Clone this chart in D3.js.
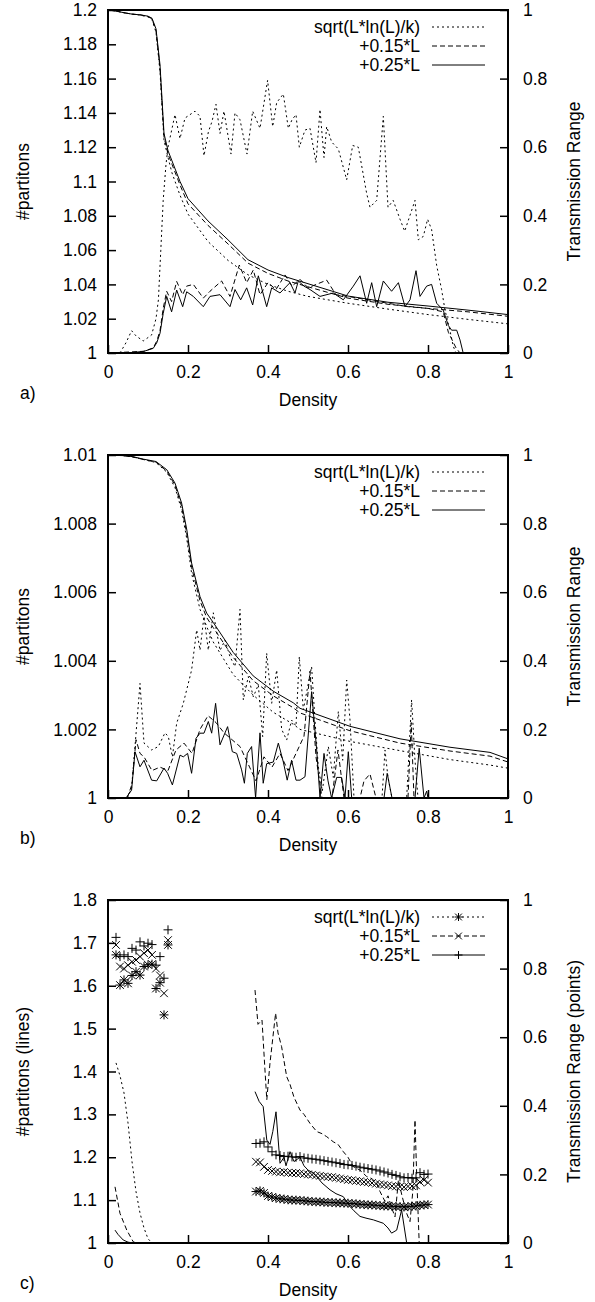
<!DOCTYPE html>
<html>
<head>
<meta charset="utf-8">
<script src="https://cdn.jsdelivr.net/npm/d3@7"></script>
<style>
  body { margin: 0; background: #fff; }
  svg { display: block; }
</style>
</head>
<body>
<div id="chart"></div>
<script>
/* Three stacked gnuplot-style panels: #partitions (left axis) and
   transmission range (right axis) against density. */

const SERIES_NAMES = ["sqrt(L*ln(L)/k)", "+0.15*L", "+0.25*L"];
const DENSITY_TICKS = [0, 0.2, 0.4, 0.6, 0.8, 1];
const RANGE_TICKS = [0, 0.2, 0.4, 0.6, 0.8, 1];
const A_PART_TICKS = [1, 1.02, 1.04, 1.06, 1.08, 1.1, 1.12, 1.14, 1.16, 1.18, 1.2];
const B_PART_TICKS = [1, 1.002, 1.004, 1.006, 1.008, 1.01];
const C_PART_TICKS = [1, 1.1, 1.2, 1.3, 1.4, 1.5, 1.6, 1.7, 1.8];

// ---- panel a ----
const A_RANGE_X = [0, .02, .04, .06, .08, .10, .11, .12, .13, .14, .15, .16, .18, .20, .25, .30, .35, .40, .45, .50, .60, .70, .80, .90, 1.0];
const A_RANGE_SQRT = [1.0, .997, .992, .988, .985, .98, .972, .935, .82, .62, .57, .525, .46, .405, .325, .27, .228, .2, .18, .165, .145, .128, .112, .098, .085];
const A_RANGE_015 = [1.0, .997, .992, .988, .986, .981, .974, .94, .83, .63, .58, .55, .49, .435, .372, .318, .262, .232, .21, .193, .16, .142, .13, .12, .107];
const A_RANGE_025 = [1.0, .997, .992, .988, .986, .982, .976, .945, .84, .64, .59, .56, .50, .45, .385, .33, .272, .242, .22, .202, .166, .148, .137, .125, .112];

const A_PART_SQRT_X = [.03, .045, .059, .07, .088, .10, .109, .12, .126, .132, .138, .145, .15, .1675, .18, .1925, .205, .2175, .23, .24, .251, .26, .27, .28, .29, .3075, .3175, .33, .3475, .3617, .38, .399, .4117, .4217, .4383, .4508, .46, .47, .4783, .4925, .505, .52, .53, .54, .5467, .5592, .5758, .5967, .6117, .6258, .6467, .655, .6717, .6883, .70, .713, .73, .7417, .7675, .7758, .7883, .799, .809, .8217, .834, .8425, .855, .863, .87];
const A_PART_SQRT = [1.0, 1.006, 1.013, 1.01, 1.007, 1.009, 1.0105, 1.02, 1.031, 1.06, 1.089, 1.11, 1.12, 1.139, 1.125, 1.137, 1.139, 1.141, 1.138, 1.115, 1.129, 1.135, 1.145, 1.128, 1.141, 1.116, 1.14, 1.136, 1.116, 1.141, 1.131, 1.159, 1.132, 1.146, 1.151, 1.131, 1.136, 1.139, 1.12, 1.13, 1.131, 1.111, 1.142, 1.114, 1.132, 1.123, 1.119, 1.101, 1.121, 1.12, 1.093, 1.085, 1.089, 1.138, 1.085, 1.089, 1.078, 1.071, 1.089, 1.066, 1.068, 1.078, 1.072, 1.051, 1.037, 1.025, 1.013, 1.004, 1.0];
const A_PART_015_X = [0, .09, .113, .122, .13, .138, .1467, .159, .1717, .1867, .1967, .2133, .2383, .255, .284, .305, .3283, .3467, .3633, .38, .40, .42, .4425, .46, .48, .50, .5467, .57, .60, .65, .70, .75, .80, .838, .851, .87, .88];
const A_PART_015 = [1.0, 1.001, 1.003, 1.007, 1.013, 1.026, 1.036, 1.03, 1.0417, 1.034, 1.039, 1.04, 1.032, 1.036, 1.042, 1.033, 1.0513, 1.041, 1.0484, 1.034, 1.041, 1.037, 1.0455, 1.039, 1.043, 1.038, 1.0425, 1.034, 1.033, 1.031, 1.029, 1.027, 1.026, 1.024, 1.012, 1.003, 1.0];
const A_PART_025_X = [0, .05, .09, .113, .122, .13, .138, .1467, .159, .1717, .1867, .1967, .2133, .2383, .255, .28, .305, .3175, .3317, .3467, .3617, .3758, .3967, .4092, .43, .455, .4675, .4758, .49, .505, .53, .5633, .5883, .6133, .63, .6467, .6592, .6717, .6883, .709, .726, .7425, .755, .77, .78, .7967, .809, .8217, .838, .851, .859, .8717, .88, .888];
const A_PART_025 = [1.0, 1.0, 1.001, 1.0027, 1.006, 1.0115, 1.023, 1.033, 1.024, 1.0367, 1.027, 1.0357, 1.033, 1.027, 1.033, 1.034, 1.027, 1.037, 1.031, 1.038, 1.028, 1.045, 1.027, 1.038, 1.035, 1.041, 1.035, 1.042, 1.039, 1.037, 1.033, 1.035, 1.031, 1.039, 1.045, 1.029, 1.041, 1.027, 1.042, 1.036, 1.041, 1.027, 1.031, 1.048, 1.033, 1.039, 1.04, 1.029, 1.025, 1.016, 1.0133, 1.0133, 1.0076, 1.0];

// ---- panel b ----
const B_RANGE_X = [0, .04, .063, .088, .12, .147, .1675, .184, .197, .209, .23, .2467, .263, .313, .363, .413, .4633, .48, .605, .73, .855, .955, 1.0];
const B_RANGE_SQRT = [1.0, .998, .994, .987, .978, .95, .905, .84, .755, .655, .55, .5, .455, .36, .3, .25, .215, .2, .165, .138, .112, .096, .087];
const B_RANGE_015 = [1.0, .998, .994, .987, .979, .953, .912, .85, .77, .672, .575, .526, .497, .41, .342, .298, .263, .248, .196, .16, .137, .122, .105];
const B_RANGE_025 = [1.0, .998, .995, .988, .981, .957, .918, .86, .782, .685, .587, .539, .512, .4245, .356, .3115, .2775, .2615, .209, .1725, .148, .133, .114];

const B_PART_SQRT_X = [.048, .059, .0675, .08, .09, .109, .1258, .1425, .1508, .161, .1717, .1883, .209, .2217, .23, .24, .2508, .2633, .28, .2925, .305, .3175, .33, .3383, .3508, .3633, .3758, .3867, .3967, .4092, .4217, .4342, .4467, .4592, .47, .4783, .4883, .5008, .509, .5175, .5258, .5358, .5508, .5633, .5758, .5867, .5967, .605, .615, .685, .6925, .70, .71, .7467, .759, .7675, .775];
const B_PART_SQRT = [1.0, 1.0003, 1.0015, 1.00334, 1.0016, 1.0014, 1.0015, 1.0019, 1.00179, 1.0012, 1.00218, 1.00276, 1.00373, 1.0049, 1.00431, 1.0053, 1.00431, 1.0054, 1.0043, 1.0046, 1.00412, 1.00383, 1.0055, 1.00286, 1.00354, 1.00295, 1.0033, 1.00179, 1.00422, 1.00276, 1.00373, 1.002, 1.00169, 1.00227, 1.0021, 1.00412, 1.00257, 1.00334, 1.00383, 1.00227, 1.00091, 1.0002, 1.0015, 1.0006, 1.00252, 1.0011, 1.00344, 1.00227, 1.0, 1.0, 1.0014, 1.0006, 1.0, 1.0, 1.00286, 1.0011, 1.0];
const B_PART_015_X = [.048, .06, .07, .08, .09, .11, .13, .15, .17, .19, .21, .23, .25, .27, .29, .31, .33, .35, .37, .39, .41, .43, .45, .47, .49, .505, .52, .535, .56, .575, .59, .63, .64, .655, .67, .75, .758, .765, .78];
const B_PART_015 = [1.0, 1.0004, 1.0017, 1.0013, 1.0012, 1.0008, 1.0009, 1.0008, 1.0014, 1.0016, 1.0013, 1.002, 1.0024, 1.0022, 1.0019, 1.0017, 1.0015, 1.001, 1.0005, 1.0012, 1.0009, 1.0013, 1.0008, 1.0013, 1.0018, 1.0037, 1.0012, 1.0, 1.0, 1.0014, 1.0, 1.0, 1.0005, 1.0007, 1.0, 1.0, 1.0022, 1.0, 1.0];
const B_PART_025_X = [.045, .059, .0675, .08, .09, .109, .1217, .14, .149, .161, .18, .1883, .199, .209, .22, .23, .24, .2508, .2592, .269, .28, .299, .3108, .3217, .334, .341, .3483, .359, .369, .38, .388, .3967, .4133, .4258, .4383, .448, .459, .47, .48, .4925, .509, .5217, .53, .54, .55, .559, .5717, .584, .5925, .6008, .6092, .69, .698, .71, .7675, .778, .79, .7967, .80];
const B_PART_025 = [1.0, 1.00023, 1.00135, 1.00091, 1.0011, 1.00052, 1.0005, 1.00087, 1.00072, 1.00038, 1.00125, 1.0012, 1.0013, 1.00072, 1.00174, 1.00189, 1.00189, 1.00223, 1.00189, 1.00276, 1.00155, 1.00208, 1.00135, 1.0013, 1.00082, 1.00043, 1.0013, 1.0015, 1.0, 1.0019, 1.00043, 1.001, 1.00105, 1.0016, 1.00105, 1.00052, 1.0011, 1.00052, 1.00052, 1.00062, 1.0031, 1.0014, 1.0, 1.0013, 1.0005, 1.0, 1.0006, 1.0006, 1.0, 1.00135, 1.0, 1.0, 1.00072, 1.0, 1.0, 1.00145, 1.0, 1.0002, 1.0];

// ---- panel c ----  (null = gap in the line)
const C_LINE_SQRT_X = [.02, .03, .04, .05, .06, .07, .08, .09, .10, .11];
const C_LINE_SQRT = [1.42, 1.39, 1.35, 1.28, 1.19, 1.12, 1.07, 1.035, 1.01, 1.0];
const C_LINE_015_X = [.0175, .03, .047, .063, .07, null, .3675, .375, .385, .392, .397, .405, .419, .425, .434, .4467, .455, .465, .48, .49, .505, .5217, .535, .5467, .5633, .575, .5883, .60, .6133, .63, .6467, .66, .6717, .68, .6925, .70, .71, .7175, .726, .735, .7467, .755, .762, .7675, .772, .778];
const C_LINE_015 = [1.131, 1.069, 1.03, 1.003, 1.0, null, 1.59, 1.51, 1.52, 1.41, 1.334, 1.42, 1.536, 1.49, 1.458, 1.388, 1.37, 1.34, 1.31, 1.3, 1.279, 1.26, 1.255, 1.248, 1.236, 1.23, 1.213, 1.2, 1.178, 1.17, 1.155, 1.15, 1.139, 1.12, 1.097, 1.11, 1.08, 1.061, 1.147, 1.11, 1.069, 1.05, 1.12, 1.287, 1.15, 1.0];
const C_LINE_025_X = [.0175, .025, .038, .05, .063, null, .3675, .378, .388, .397, .405, .412, .42, .43, .44, .445, .455, .465, .48, .49, .50, .51, .5217, .535, .555, .57, .5883, .605, .615, .63, .645, .6633, .6883, .70, .709, .7217, .734, .7467];
const C_LINE_025 = [1.03, 1.02, 1.007, 1.002, 1.0, null, 1.353, 1.33, 1.318, 1.24, 1.23, 1.26, 1.306, 1.186, 1.2, 1.18, 1.213, 1.19, 1.2, 1.18, 1.17, 1.165, 1.155, 1.14, 1.124, 1.115, 1.108, 1.085, 1.075, 1.062, 1.058, 1.054, 1.046, 1.035, 1.023, 1.03, 1.077, 1.0];

const C_PTS1_X = [.02, .03, .04, .05, .06, .07, .08, .09, .10, .11, .12, .13, .14, .15];
const C_PTS1_SQRT = [.84, .752, .767, .757, .78, .791, .781, .806, .811, .813, .742, .759, .665, .869];
const C_PTS1_015 = [.869, .806, .8, .81, .82, .825, .835, .845, .854, .84, .8, .78, .728, .883];
const C_PTS1_025 = [.891, .835, .84, .835, .859, .854, .878, .866, .874, .87, .81, .835, .772, .913];

const C_PTS2_X = [.37, .38, .39, .40, .41, .42, .43, .44, .45, .46, .47, .48, .49, .50, .51, .52, .53, .54, .55, .56, .57, .58, .59, .60, .61, .62, .63, .64, .65, .66, .67, .68, .69, .70, .71, .72, .73, .74, .75, .76, .77, .78, .79, .80];
const C_PTS2_SQRT = [.15, .152, .146, .137, .134, .131, .129, .128, .126, .125, .125, .124, .123, .122, .121, .12, .12, .119, .118, .118, .117, .117, .116, .116, .115, .114, .113, .112, .111, .111, .11, .109, .108, .108, .107, .106, .106, .105, .106, .107, .108, .11, .111, .112];
const C_PTS2_015 = [.237, .235, .222, .213, .21, .208, .206, .207, .205, .204, .204, .203, .201, .2, .199, .197, .196, .194, .193, .192, .19, .188, .186, .184, .183, .181, .18, .178, .177, .175, .173, .171, .17, .168, .166, .165, .164, .163, .165, .166, .168, .178, .184, .176];
const C_PTS2_025 = [.29, .291, .295, .28, .266, .257, .255, .252, .253, .251, .25, .252, .248, .247, .245, .244, .242, .24, .238, .236, .234, .232, .229, .228, .226, .224, .221, .219, .217, .215, .213, .21, .207, .204, .2, .197, .193, .19, .191, .189, .19, .205, .2, .201];

// ---- drawing ----
const W = 595, H = 1302;
const PLOT_L = 108, PLOT_R = 508, PLOT_H = 343;
const FONT = '"Liberation Sans", Arial, Helvetica, sans-serif';
const FS = 17.5;
const DASH = { sqrt: "2,3", p15: "5,3", p25: null };
const MARK = { sqrt: "star", p15: "cross", p25: "plus" };

const fmt = (d) => String(+d.toFixed(4));
const zip = (xs, ys) => xs.map((x, i) => ({ x, y: ys[i] }));

function markerPath(type, cx, cy, s) {
  const plus = `M${cx - s},${cy}H${cx + s}M${cx},${cy - s}V${cy + s}`;
  const c = s * 0.85;
  const cross = `M${cx - c},${cy - c}L${cx + c},${cy + c}M${cx - c},${cy + c}L${cx + c},${cy - c}`;
  if (type === "plus") return plus;
  if (type === "cross") return cross;
  return plus + cross;
}

const svg = d3.select("#chart").append("svg").attr("width", W).attr("height", H);
svg.append("rect").attr("width", W).attr("height", H).attr("fill", "#fff");

function styleAxis(sel) {
  sel.attr("font-family", FONT).attr("font-size", FS);
  sel.select(".domain").remove();
  sel.selectAll("line").attr("stroke", "#000").attr("stroke-width", 1.5);
  sel.selectAll("text").attr("fill", "#000");
}

function drawPanel(p) {
  const g = svg.append("g").attr("transform", `translate(0,${p.top})`);
  const x = d3.scaleLinear().domain([0, 1]).range([PLOT_L, PLOT_R]);
  const yL = d3.scaleLinear().domain(p.leftDomain).range([PLOT_H, 0]);
  const yR = d3.scaleLinear().domain([0, 1]).range([PLOT_H, 0]);

  const clipId = "clip-" + p.tag;
  g.append("clipPath").attr("id", clipId)
    .append("rect").attr("x", PLOT_L).attr("y", -1)
    .attr("width", PLOT_R - PLOT_L).attr("height", PLOT_H + 2);

  g.append("g").attr("transform", `translate(${PLOT_L},0)`)
    .call(d3.axisLeft(yL).tickValues(p.leftTicks).tickFormat(fmt)
      .tickSizeInner(-8).tickSizeOuter(0).tickPadding(11))
    .call(styleAxis);
  g.append("g").attr("transform", `translate(${PLOT_R},0)`)
    .call(d3.axisRight(yR).tickValues(RANGE_TICKS).tickFormat(fmt)
      .tickSizeInner(-8).tickSizeOuter(0).tickPadding(15))
    .call(styleAxis);
  g.append("g").attr("transform", `translate(0,${PLOT_H})`)
    .call(d3.axisBottom(x).tickValues(DENSITY_TICKS).tickFormat(fmt)
      .tickSizeInner(-8).tickSizeOuter(0).tickPadding(12.5))
    .call(styleAxis);

  const plot = g.append("g").attr("clip-path", `url(#${clipId})`);

  p.lines.forEach((s) => {
    const yS = s.axis === "left" ? yL : yR;
    const line = d3.line()
      .defined((d) => d.x != null && d.y != null)
      .x((d) => x(d.x)).y((d) => yS(d.y));
    plot.append("path")
      .datum(zip(s.xs, s.ys))
      .attr("d", line)
      .attr("fill", "none")
      .attr("stroke", "#000")
      .attr("stroke-width", 1)
      .attr("stroke-dasharray", DASH[s.key]);
  });

  (p.points || []).forEach((s) => {
    plot.append("g").selectAll("path")
      .data(zip(s.xs, s.ys))
      .join("path")
      .attr("d", (d) => markerPath(MARK[s.key], x(d.x), yR(d.y), 4.5))
      .attr("fill", "none")
      .attr("stroke", "#000")
      .attr("stroke-width", 1);
  });

  // frame
  g.append("rect")
    .attr("x", PLOT_L).attr("y", 0)
    .attr("width", PLOT_R - PLOT_L).attr("height", PLOT_H)
    .attr("fill", "none").attr("stroke", "#000").attr("stroke-width", 2);

  // legend
  const keys = ["sqrt", "p15", "p25"];
  const rowY = [17, 36, 55];
  keys.forEach((k, i) => {
    g.append("text")
      .attr("x", 420).attr("y", rowY[i]).attr("dy", "0.35em")
      .attr("text-anchor", "end")
      .attr("font-family", FONT).attr("font-size", FS)
      .text(SERIES_NAMES[i]);
    g.append("line")
      .attr("x1", 432).attr("x2", 485).attr("y1", rowY[i]).attr("y2", rowY[i])
      .attr("stroke", "#000").attr("stroke-width", 1)
      .attr("stroke-dasharray", DASH[k]);
    if (p.points) {
      g.append("path")
        .attr("d", markerPath(MARK[k], 458.5, rowY[i], 4))
        .attr("fill", "none").attr("stroke", "#000").attr("stroke-width", 1);
    }
  });

  // axis titles
  g.append("text")
    .attr("transform", `translate(28.5,${PLOT_H / 2}) rotate(-90)`)
    .attr("text-anchor", "middle")
    .attr("font-family", FONT).attr("font-size", FS)
    .text(p.leftLabel);
  g.append("text")
    .attr("transform", `translate(580,${PLOT_H / 2}) rotate(-90)`)
    .attr("text-anchor", "middle")
    .attr("font-family", FONT).attr("font-size", FS)
    .text(p.rightLabel);
  g.append("text")
    .attr("x", (PLOT_L + PLOT_R) / 2).attr("y", PLOT_H + 53)
    .attr("text-anchor", "middle")
    .attr("font-family", FONT).attr("font-size", FS)
    .text("Density");
  g.append("text")
    .attr("x", 20).attr("y", PLOT_H + 46)
    .attr("font-family", FONT).attr("font-size", FS)
    .text(p.tag + ")");
}

drawPanel({
  tag: "a", top: 10, leftDomain: [1, 1.2], leftTicks: A_PART_TICKS,
  leftLabel: "#partitons", rightLabel: "Transmission Range",
  lines: [
    { key: "sqrt", axis: "right", xs: A_RANGE_X, ys: A_RANGE_SQRT },
    { key: "p15", axis: "right", xs: A_RANGE_X, ys: A_RANGE_015 },
    { key: "p25", axis: "right", xs: A_RANGE_X, ys: A_RANGE_025 },
    { key: "sqrt", axis: "left", xs: A_PART_SQRT_X, ys: A_PART_SQRT },
    { key: "p15", axis: "left", xs: A_PART_015_X, ys: A_PART_015 },
    { key: "p25", axis: "left", xs: A_PART_025_X, ys: A_PART_025 },
  ],
});

drawPanel({
  tag: "b", top: 455, leftDomain: [1, 1.01], leftTicks: B_PART_TICKS,
  leftLabel: "#partitons", rightLabel: "Transmission Range",
  lines: [
    { key: "sqrt", axis: "right", xs: B_RANGE_X, ys: B_RANGE_SQRT },
    { key: "p15", axis: "right", xs: B_RANGE_X, ys: B_RANGE_015 },
    { key: "p25", axis: "right", xs: B_RANGE_X, ys: B_RANGE_025 },
    { key: "sqrt", axis: "left", xs: B_PART_SQRT_X, ys: B_PART_SQRT },
    { key: "p15", axis: "left", xs: B_PART_015_X, ys: B_PART_015 },
    { key: "p25", axis: "left", xs: B_PART_025_X, ys: B_PART_025 },
  ],
});

drawPanel({
  tag: "c", top: 900, leftDomain: [1, 1.8], leftTicks: C_PART_TICKS,
  leftLabel: "#partitons (lines)", rightLabel: "Transmission Range (points)",
  lines: [
    { key: "sqrt", axis: "left", xs: C_LINE_SQRT_X, ys: C_LINE_SQRT },
    { key: "p15", axis: "left", xs: C_LINE_015_X, ys: C_LINE_015 },
    { key: "p25", axis: "left", xs: C_LINE_025_X, ys: C_LINE_025 },
  ],
  points: [
    { key: "sqrt", xs: C_PTS1_X.concat(C_PTS2_X), ys: C_PTS1_SQRT.concat(C_PTS2_SQRT) },
    { key: "p15", xs: C_PTS1_X.concat(C_PTS2_X), ys: C_PTS1_015.concat(C_PTS2_015) },
    { key: "p25", xs: C_PTS1_X.concat(C_PTS2_X), ys: C_PTS1_025.concat(C_PTS2_025) },
  ],
});
</script>
</body>
</html>
